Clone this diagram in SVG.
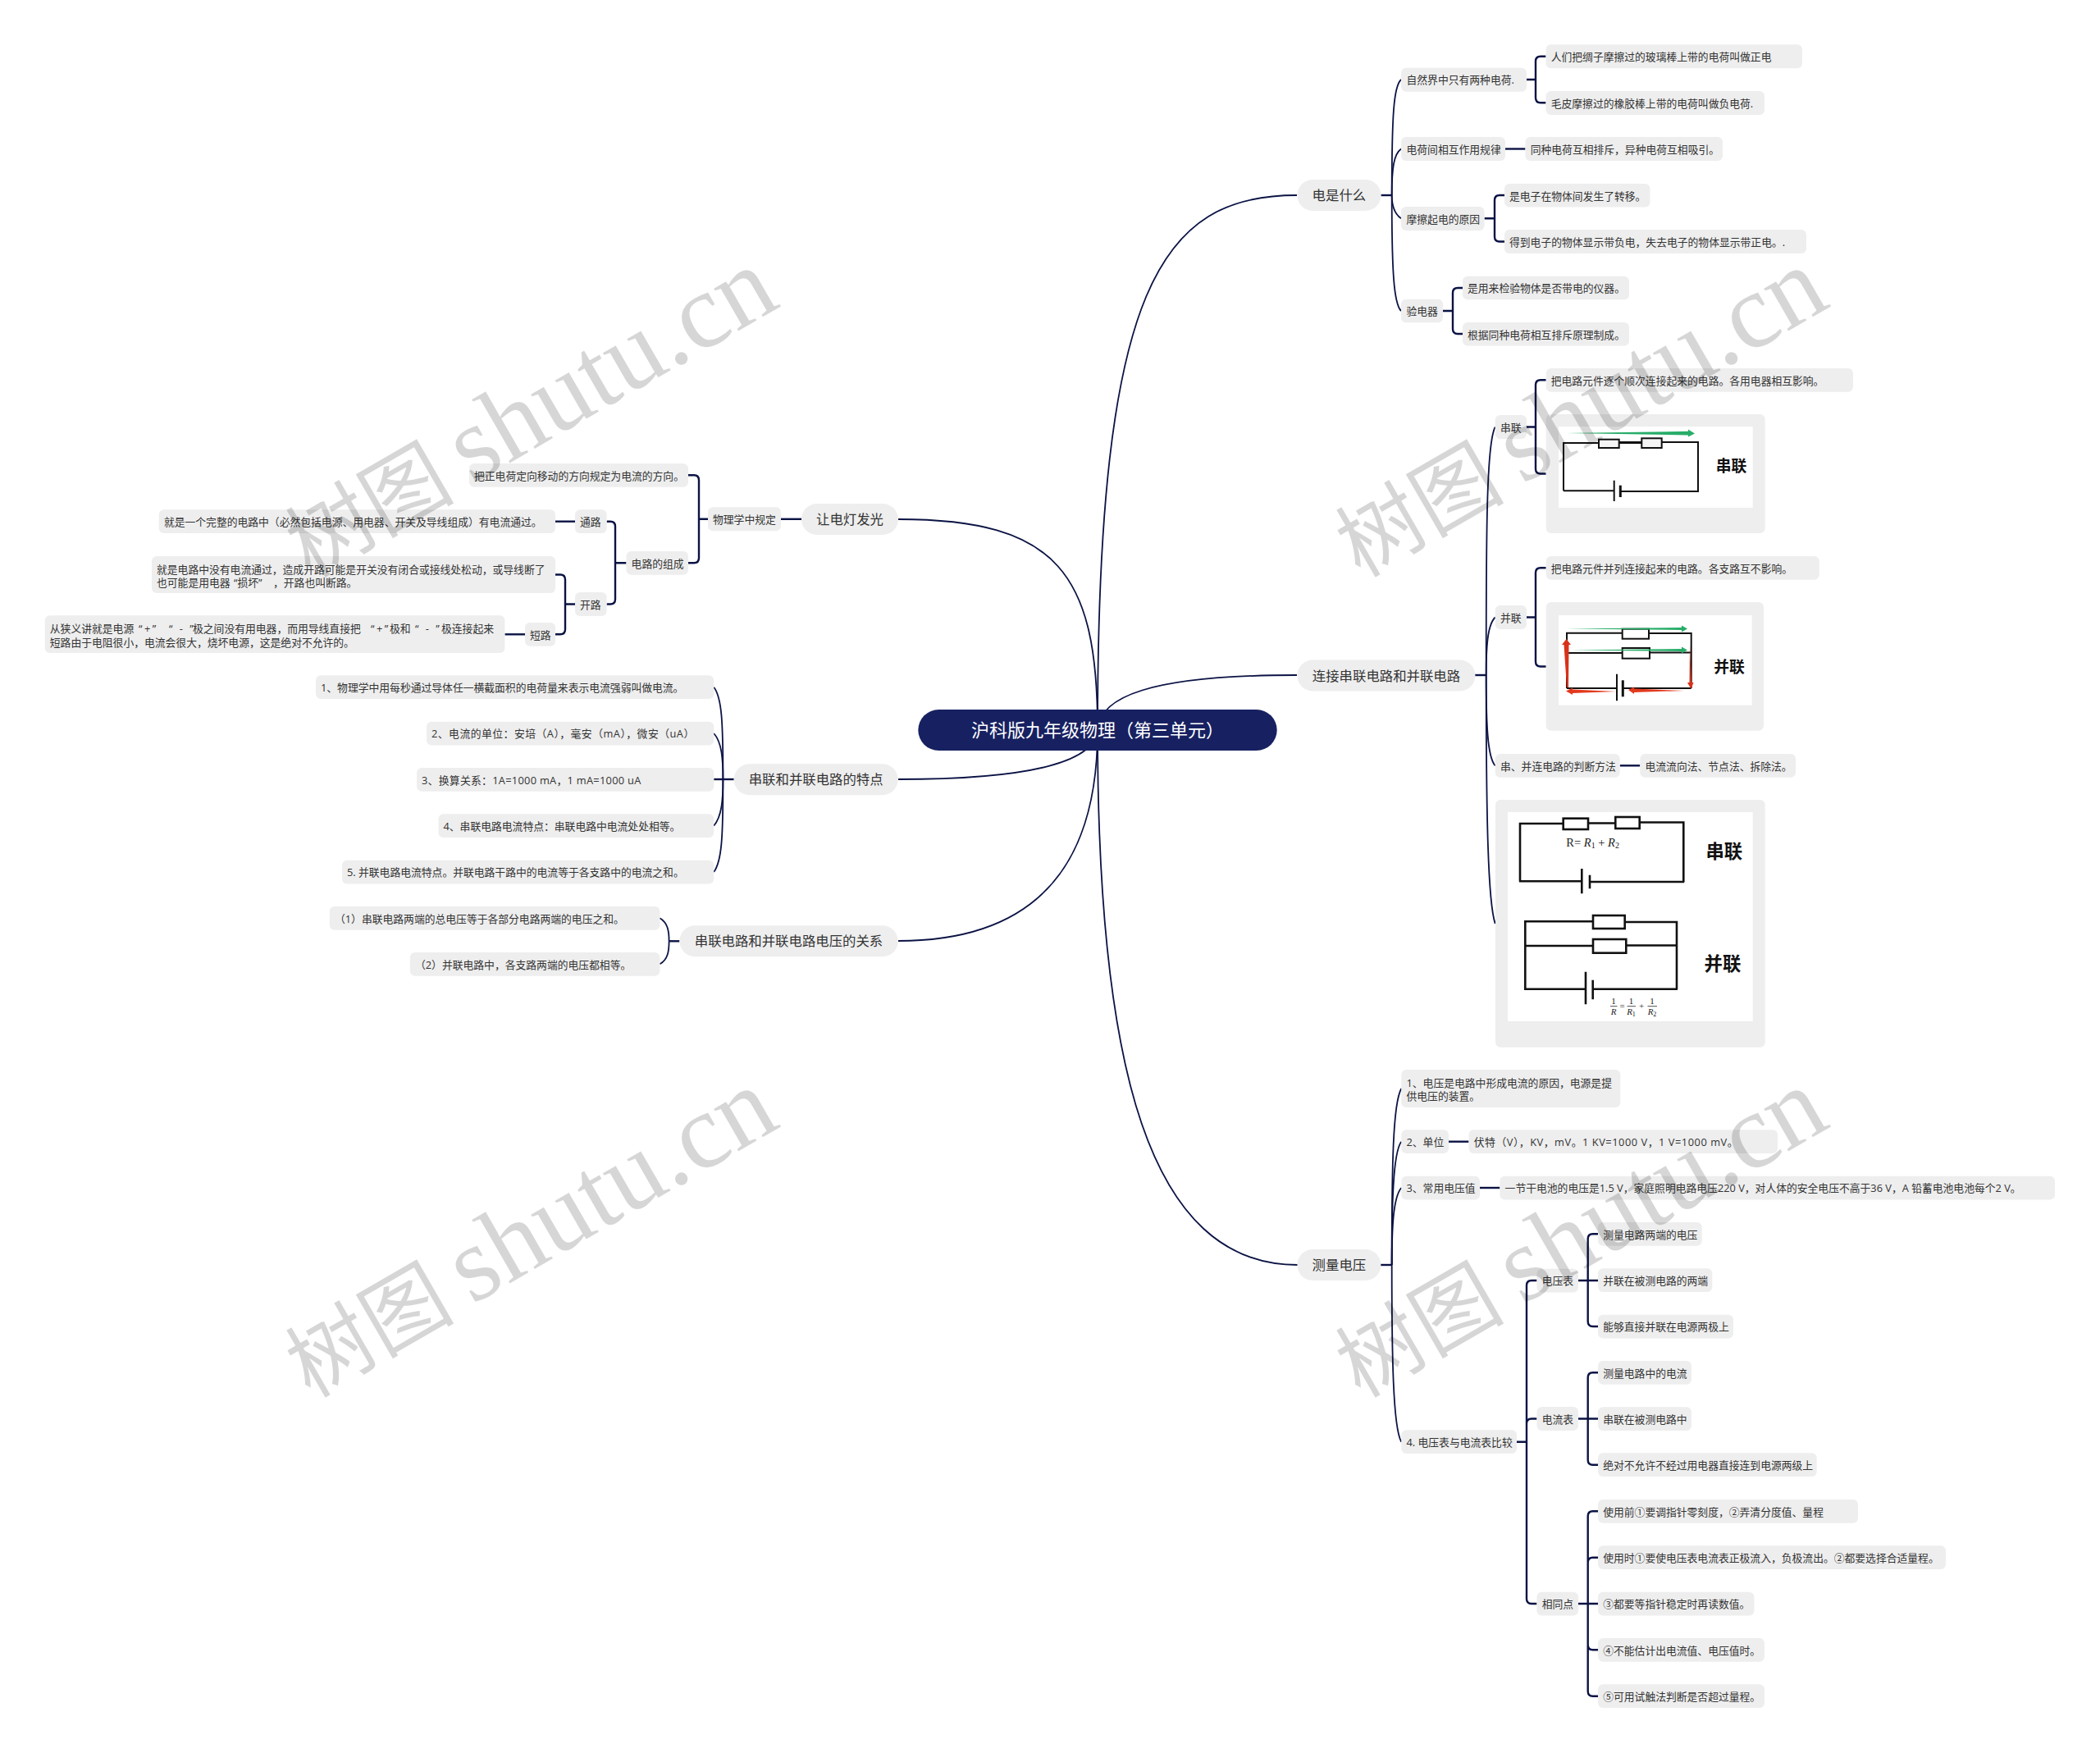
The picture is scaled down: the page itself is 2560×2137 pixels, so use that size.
<svg xmlns="http://www.w3.org/2000/svg" width="2560" height="2137" viewBox="0 0 2560 2137">
<style>
text{font-family:"Open Sans","Noto Sans CJK SC",sans-serif;fill:#333;font-size:12.8px;white-space:pre}
.b{fill:#eee;rx:6px}
.l1{fill:#eee;rx:19px}
.l1t{font-size:16.4px;text-anchor:middle}
.c{fill:none;stroke:#0b1344;stroke-width:1.8}
.s{fill:none;stroke:#0b1344;stroke-width:2.4}
.w{fill:#fff}
.k{fill:none;stroke:#111;stroke-width:2}
.k3{fill:none;stroke:#111;stroke-width:2.6}
.r{fill:#f4f4f4;stroke:#111;stroke-width:2}
.r3{fill:#fff;stroke:#111;stroke-width:2.6}
.lab{font-weight:700;fill:#111;text-anchor:middle;font-family:"Noto Sans CJK SC",sans-serif}
.f{font-family:"Liberation Serif",serif;fill:#222}
.wm{font-family:"Liberation Serif","Noto Sans CJK SC",serif;font-size:130px;fill:#000;fill-opacity:.16}
.wc{font-family:"Noto Sans CJK SC",sans-serif;font-size:103px;fill:#000;fill-opacity:.16}
.q{letter-spacing:2.5px}
</style>
<rect width="2560" height="2137" fill="#fff"/>
<g id="connectors">
<path class="c" d="M1338 890C1338 350 1415 238 1581 238"/>
<path class="c" d="M1338 890C1340 850 1400 823 1581 823"/>
<path class="c" d="M1338 890C1338 1300 1400 1542 1582 1542"/>
<path class="c" d="M1338 890C1338 700 1290 633 1095 633"/>
<path class="c" d="M1338 890C1335 925 1270 950 1095 950"/>
<path class="c" d="M1338 890C1338 1010 1300 1147 1095 1147"/>
<path class="s" d="M1683.5 238H1696.7"/>
<path class="c" d="M1696.7 238C1696.7 140 1699 105 1708 97"/>
<path class="c" d="M1696.7 238C1696.7 205 1699 188 1708 181.5"/>
<path class="c" d="M1696.7 238C1696.7 250 1699 260 1708 266.3"/>
<path class="c" d="M1696.7 238C1696.7 330 1699 370 1708 379"/>
<path class="s" d="M1861 97H1872M1884.5 68.8H1878Q1872 68.8 1872 74.8V119Q1872 125.3 1878 125.3H1884.5"/>
<path class="s" d="M1835 181.5H1859.5"/>
<path class="s" d="M1809.5 266.3H1822M1834 238H1828Q1822 238 1822 244V288.5Q1822 294.5 1828 294.5H1834"/>
<path class="s" d="M1759 379H1771M1783 351H1777Q1771 351 1771 357V401Q1771 407 1777 407H1783"/>
<path class="s" d="M1798 823H1811.7"/>
<path class="c" d="M1811.7 823C1811.7 650 1812 540 1822.7 520.5"/>
<path class="c" d="M1811.7 823C1811.7 790 1813 762 1822.7 752.5"/>
<path class="c" d="M1811.7 823C1811.7 880 1813 923 1822.7 933.3"/>
<path class="c" d="M1811.7 823C1811.7 1000 1814 1100 1822.7 1126"/>
<path class="s" d="M1861 520.5H1872M1884.7 463.3H1878Q1872 463.3 1872 469.3V571.5Q1872 577.5 1878 577.5H1884.7"/>
<path class="s" d="M1861 752.5H1872M1884.7 692.3H1878Q1872 692.3 1872 698.3V806.5Q1872 812.5 1878 812.5H1884.7"/>
<path class="s" d="M1974.7 933.3H1999.3"/>
<path class="s" d="M1683 1542H1696.7"/>
<path class="c" d="M1696.7 1542C1696.7 1420 1698 1345 1708.3 1327"/>
<path class="c" d="M1696.7 1542C1696.7 1470 1698 1405 1708.3 1391.7"/>
<path class="c" d="M1696.7 1542C1696.7 1500 1698 1460 1708.3 1448"/>
<path class="c" d="M1696.7 1542C1696.7 1650 1698 1740 1708.3 1757.7"/>
<path class="s" d="M1766 1391.7H1790.5"/>
<path class="s" d="M1804 1448H1828.4"/>
<path class="s" d="M1849 1757.7H1861M1873.5 1561H1867Q1861 1561 1861 1567V1949Q1861 1955 1867 1955H1873.5M1861 1735.5Q1861 1729.5 1867 1729.5H1873.5"/>
<path class="s" d="M1924 1561H1948M1948 1504.3H1941.7Q1935.7 1504.3 1935.7 1510.3V1611Q1935.7 1617 1941.7 1617H1948"/>
<path class="s" d="M1924 1729.5H1948M1948 1673.3H1941.7Q1935.7 1673.3 1935.7 1679.3V1779.7Q1935.7 1785.7 1941.7 1785.7H1948"/>
<path class="s" d="M1924 1955H1948M1948 1842.3H1941.7Q1935.7 1842.3 1935.7 1848.3V2061.7Q1935.7 2067.7 1941.7 2067.7H1948M1948 1898.7H1941.7Q1935.7 1898.7 1935.7 1904.7M1948 2011.3H1941.7Q1935.7 2011.3 1935.7 2005.3"/>
<path class="s" d="M952 632.8H977"/>
<path class="s" d="M863 632.8H852M839 579.3H846Q852 579.3 852 585.3V680.3Q852 686.3 846 686.3H839"/>
<path class="s" d="M763.5 686.3H750M739.6 635.7H744Q750 635.7 750 641.7V730.5Q750 736.5 744 736.5H739.6"/>
<path class="s" d="M701 635.7H677"/>
<path class="s" d="M701 736.5H689M677 700.5H683Q689 700.5 689 706.5V767.3Q689 773.3 683 773.3H677"/>
<path class="s" d="M640 773.3H615.4"/>
<path class="s" d="M894.7 950H870.2"/>
<path class="c" d="M881.4 950C881.4 880 880 850 870.2 837.7"/>
<path class="c" d="M881.4 950C881.4 925 880 905 870.2 894"/>
<path class="c" d="M881.4 950C881.4 975 880 995 870.2 1006.7"/>
<path class="c" d="M881.4 950C881.4 1020 880 1050 870.2 1063"/>
<path class="s" d="M828.4 1147.3H815.6"/>
<path class="c" d="M815.6 1147.3C815.6 1135 814 1125 804.4 1119.3"/>
<path class="c" d="M815.6 1147.3C815.6 1160 814 1170 804.4 1175.3"/>
</g>

<g id="root"><rect x="1119.3" y="865" width="437.4" height="50" rx="25" fill="#172161"/><text x="1338" y="898" text-anchor="middle" style="fill:#fff;font-size:22px">沪科版九年级物理（第三单元）</text></g>

<g id="n1"><rect class="l1" x="1581.4" y="219" width="102" height="38"/><text class="l1t" x="1632.4" y="244">电是什么</text></g>
<g id="n2"><rect class="b" x="1708" y="82.7" width="153" height="29"/><text x="1714.5" y="102">自然界中只有两种电荷.</text></g>
<g id="n3"><rect class="b" x="1884.5" y="54.3" width="312.5" height="29"/><text x="1890.7" y="74">人们把绸子摩擦过的玻璃棒上带的电荷叫做正电</text></g>
<g id="n4"><rect class="b" x="1884.5" y="111" width="266.5" height="29"/><text x="1890.7" y="130.5">毛皮摩擦过的橡胶棒上带的电荷叫做负电荷.</text></g>
<g id="n5"><rect class="b" x="1708" y="167" width="127" height="29"/><text x="1714.5" y="186.5">电荷间相互作用规律</text></g>
<g id="n6"><rect class="b" x="1859.5" y="167" width="240.5" height="29"/><text x="1865.7" y="186.5">同种电荷互相排斥，异种电荷互相吸引。</text></g>
<g id="n7"><rect class="b" x="1708" y="252" width="101.5" height="29"/><text x="1714.5" y="271.5">摩擦起电的原因</text></g>
<g id="n8"><rect class="b" x="1834" y="224" width="177.5" height="28.5"/><text x="1840" y="243.5">是电子在物体间发生了转移。</text></g>
<g id="n9"><rect class="b" x="1834" y="280" width="368" height="29"/><text x="1840" y="299.5">得到电子的物体显示带负电，失去电子的物体显示带正电。.</text></g>
<g id="n10"><rect class="b" x="1708" y="364.7" width="51" height="28.5"/><text x="1714.5" y="384">验电器</text></g>
<g id="n11"><rect class="b" x="1783" y="336.7" width="203" height="28.5"/><text x="1789" y="356">是用来检验物体是否带电的仪器。</text></g>
<g id="n12"><rect class="b" x="1783" y="393" width="203" height="28.5"/><text x="1789" y="412.5">根据同种电荷相互排斥原理制成。</text></g>

<g id="n13"><rect class="l1" x="1581.4" y="804.5" width="217" height="38"/><text class="l1t" x="1690" y="829.5">连接串联电路和并联电路</text></g>
<g id="n14"><rect class="b" x="1822.7" y="506" width="38.3" height="29"/><text x="1829" y="525.5">串联</text></g>
<g id="n15"><rect class="b" x="1884.7" y="449" width="374.3" height="28.7"/><text x="1890.7" y="468.5">把电路元件逐个顺次连接起来的电路。各用电器相互影响。</text></g>
<g id="n16"><rect class="b" x="1884.7" y="505" width="267" height="145"/><rect class="w" x="1900" y="520" width="236.7" height="99"/>
<path class="k" d="M1906 598.3V540H1949M2025.7 539H2070V599M1906 598.3H1967.7M1975.3 599H2071"/>
<path d="M1973.7 539.5H2001.3" fill="none" stroke="#111" stroke-width="3"/>
<rect class="r" x="1949" y="535.7" width="24.7" height="10.3"/><rect class="r" x="2001.3" y="534.3" width="24.4" height="11.7"/>
<path class="k" d="M1967.7 585.7V611"/><path d="M1975.3 591.7V606" fill="none" stroke="#111" stroke-width="3"/>
<path d="M1910 528L2058 525.8V523.5L2066 528.5L2058 532.5V530.5Z" fill="#27ad68"/>
<text class="lab" x="2110.5" y="575" style="font-size:18.8px">串联</text></g>
<g id="n17"><rect class="b" x="1822.7" y="738" width="38.3" height="29"/><text x="1829" y="757.5">并联</text></g>
<g id="n18"><rect class="b" x="1884.7" y="678" width="333" height="28.7"/><text x="1890.7" y="697.5">把电路元件并列连接起来的电路。各支路互不影响。</text></g>
<g id="n19"><rect class="b" x="1884.7" y="734" width="265.3" height="156.7"/><rect class="w" x="1900" y="750" width="235.7" height="109.7"/>
<path class="k" d="M1910 839V771.7H1977.7M2010 772H2061.7V839M1911 796H1977.7M2011 795.5H2061.7M1910 839H1971M1978.3 839H2061.7"/>
<rect class="r" x="1977.7" y="766.7" width="32.3" height="12" style="fill:#fff"/><rect class="r" x="1977.7" y="790" width="33.3" height="12.7" style="fill:#fff"/>
<path class="k" d="M1971 821.7V854.3"/><path d="M1978.3 829.3V849.3" fill="none" stroke="#111" stroke-width="3"/>
<path d="M1910 766.5L2050 765V762.5L2057 766.5L2050 770.5V768Z" fill="#27ad68"/>
<path d="M1915 792.5L2050 791V788.5L2057 792.5L2050 796.5V794Z" fill="#27ad68"/>
<path d="M1910 838L1906.5 786H1904L1909.5 779L1915 786H1912.5L1912 838Z" fill="#d8321a"/>
<path d="M2060 787L2062 832H2064.5L2061.5 840L2057 832H2059.5Z" fill="#d8321a"/>
<path d="M1970 843L1917 845V847L1909 842.5L1917 838.5V840.5Z" fill="#e23a1e"/>
<path d="M2053 842L1992 844V846L1985 841L1992 837.5V839.5Z" fill="#e23a1e"/>
<text class="lab" x="2108" y="820" style="font-size:18.8px">并联</text></g>
<g id="n20"><rect class="b" x="1822.7" y="919" width="152" height="28.7"/><text x="1829" y="938.5">串、并连电路的判断方法</text></g>
<g id="n21"><rect class="b" x="1999.3" y="919" width="189.7" height="28.7"/><text x="2005.5" y="938.5">电流流向法、节点法、拆除法。</text></g>
<g id="n22"><rect class="b" x="1823" y="975" width="328.7" height="301.7"/><rect class="w" x="1838" y="990" width="298.7" height="255"/>
<path class="k3" d="M1853 1074.5V1004H1905.7M1936 1003.5H1969.3M1998.7 1002.5H2052.3V1075.5M1852 1074.3H1928.3M1938 1075H2053"/>
<rect class="r3" x="1905.7" y="997.7" width="30.3" height="13.3"/><rect class="r3" x="1969.3" y="996" width="29.4" height="14"/>
<path class="k3" d="M1928.3 1059V1089.3M1938 1066.7V1083.3"/>
<text class="f" x="1909.3" y="1032" style="font-size:14.5px">R= <tspan font-style="italic">R</tspan><tspan font-size="10" dy="2">1</tspan><tspan dy="-2"> + </tspan><tspan font-style="italic">R</tspan><tspan font-size="10" dy="2">2</tspan></text>
<text class="lab" x="2101.8" y="1046" style="font-size:22.4px">串联</text>
<path class="k3" d="M1859.3 1205.7V1123.3H1942M1980.7 1124H2044V1205.7M1859.3 1153H1942M1982.3 1152.5H2045M1858 1205.7H1933M1941.7 1205.7H2045"/>
<rect class="r3" x="1942" y="1116" width="38.7" height="16"/><rect class="r3" x="1942" y="1145" width="40.3" height="16.7"/>
<path class="k3" d="M1933 1184.7V1224.3M1941.7 1194.7V1218.3"/>
<text class="lab" x="2100" y="1183" style="font-size:22.4px">并联</text>
<path d="M1963 1226.7H1971.5M1983.5 1226.7H1994M2008.5 1226.7H2020" fill="none" stroke="#222" stroke-width=".8"/>
<text class="f" x="1967" y="1224" style="font-size:11px" text-anchor="middle">1</text><text class="f" x="1967" y="1237" style="font-size:11px;font-style:italic" text-anchor="middle">R</text>
<text class="f" x="1977.5" y="1230" style="font-size:11px" text-anchor="middle">=</text>
<text class="f" x="1988.5" y="1224" style="font-size:11px" text-anchor="middle">1</text><text class="f" x="1988.5" y="1237" style="font-size:11px" text-anchor="middle"><tspan font-style="italic">R</tspan><tspan font-size="8" dy="1.5">1</tspan></text>
<text class="f" x="2001" y="1230" style="font-size:11px" text-anchor="middle">+</text>
<text class="f" x="2014" y="1224" style="font-size:11px" text-anchor="middle">1</text><text class="f" x="2014" y="1237" style="font-size:11px" text-anchor="middle"><tspan font-style="italic">R</tspan><tspan font-size="8" dy="1.5">2</tspan></text>
</g>

<g id="n23"><rect class="l1" x="1581.4" y="1523" width="102" height="38"/><text class="l1t" x="1632.4" y="1548">测量电压</text></g>
<g id="n24"><rect class="b" x="1708.3" y="1304" width="267" height="46"/><text x="1714.5" y="1324.5">1、电压是电路中形成电流的原因，电源是提</text><text x="1714.5" y="1341.3">供电压的装置。</text></g>
<g id="n25"><rect class="b" x="1708.3" y="1377.3" width="57.7" height="28.7"/><text x="1714.5" y="1397">2、单位</text></g>
<g id="n26"><rect class="b" x="1790.5" y="1377.3" width="376.5" height="28.7"/><text x="1796.7" y="1397" style="letter-spacing:.55px">伏特（V），KV，mV。1 KV=1000 V，1 V=1000 mV。</text></g>
<g id="n27"><rect class="b" x="1708.3" y="1433.7" width="95.7" height="28.7"/><text x="1714.5" y="1453.3">3、常用电压值</text></g>
<g id="n28"><rect class="b" x="1828.4" y="1433.7" width="676.6" height="28.7"/><text x="1834.6" y="1453.3">一节干电池的电压是1.5 V，家庭照明电路电压220 V，对人体的安全电压不高于36 V，A 铅蓄电池电池每个2 V。</text></g>
<g id="n29"><rect class="b" x="1708.3" y="1743.3" width="140.7" height="28.7"/><text x="1714.5" y="1763">4. 电压表与电流表比较</text></g>
<g id="n30"><rect class="b" x="1873.5" y="1546.7" width="50.5" height="28.7"/><text x="1879.7" y="1566.3">电压表</text></g>
<g id="n31"><rect class="b" x="1948" y="1490" width="126.7" height="28.7"/><text x="1954.2" y="1509.6">测量电路两端的电压</text></g>
<g id="n32"><rect class="b" x="1948" y="1546.3" width="139.3" height="28.7"/><text x="1954.2" y="1566">并联在被测电路的两端</text></g>
<g id="n33"><rect class="b" x="1948" y="1602.7" width="165" height="28.7"/><text x="1954.2" y="1622.3">能够直接并联在电源两极上</text></g>
<g id="n34"><rect class="b" x="1873.5" y="1715" width="50.5" height="29"/><text x="1879.7" y="1734.8">电流表</text></g>
<g id="n35"><rect class="b" x="1948" y="1659" width="114" height="28.7"/><text x="1954.2" y="1678.6">测量电路中的电流</text></g>
<g id="n36"><rect class="b" x="1948" y="1715.3" width="114" height="28.7"/><text x="1954.2" y="1735">串联在被测电路中</text></g>
<g id="n37"><rect class="b" x="1948" y="1771.3" width="266.7" height="28.7"/><text x="1954.2" y="1791">绝对不允许不经过用电器直接连到电源两级上</text></g>
<g id="n38"><rect class="b" x="1873.5" y="1940.7" width="50.5" height="28.7"/><text x="1879.7" y="1960.3">相同点</text></g>
<g id="n39"><rect class="b" x="1948" y="1828" width="317" height="28.7"/><text x="1954.2" y="1847.6">使用前①要调指针零刻度，②弄清分度值、量程</text></g>
<g id="n40"><rect class="b" x="1948" y="1884.3" width="424" height="28.7"/><text x="1954.2" y="1904">使用时①要使电压表电流表正极流入，负极流出。②都要选择合适量程。</text></g>
<g id="n41"><rect class="b" x="1948" y="1940.7" width="190.4" height="28.7"/><text x="1954.2" y="1960.3">③都要等指针稳定时再读数值。</text></g>
<g id="n42"><rect class="b" x="1948" y="1997" width="203" height="28.7"/><text x="1954.2" y="2016.6">④不能估计出电流值、电压值时。</text></g>
<g id="n43"><rect class="b" x="1948" y="2053.3" width="203" height="28.7"/><text x="1954.2" y="2073">⑤可用试触法判断是否超过量程。</text></g>

<g id="n44"><rect class="l1" x="977" y="614" width="118" height="38"/><text class="l1t" x="1036" y="639">让电灯发光</text></g>
<g id="n45"><rect class="b" x="863" y="618.3" width="89" height="29"/><text x="869" y="638">物理学中规定</text></g>
<g id="n46"><rect class="b" x="572" y="565" width="267" height="28.7"/><text x="578" y="584.6">把正电荷定向移动的方向规定为电流的方向。</text></g>
<g id="n47"><rect class="b" x="763.5" y="672" width="75.5" height="28.7"/><text x="769.6" y="691.6">电路的组成</text></g>
<g id="n48"><rect class="b" x="701" y="621.3" width="38.6" height="28.7"/><text x="707" y="641">通路</text></g>
<g id="n49"><rect class="b" x="193.7" y="621.3" width="483.3" height="28.7"/><text x="199.9" y="641">就是一个完整的电路中（必然包括电源、用电器、开关及导线组成）有电流通过。</text></g>
<g id="n50"><rect class="b" x="701" y="722" width="38.6" height="29"/><text x="707" y="741.8">开路</text></g>
<g id="n51"><rect class="b" x="185" y="678" width="492" height="45"/><text x="191" y="698.5">就是电路中没有电流通过，造成开路可能是开关没有闭合或接线处松动，或导线断了</text><text x="191" y="715.2">也可能是用电器<tspan x="285">“损坏”</tspan><tspan x="333">，开路也叫断路。</tspan></text></g>
<g id="n52"><rect class="b" x="640" y="759" width="37" height="28.7"/><text x="646" y="778.6">短路</text></g>
<g id="n53"><rect class="b" x="54.7" y="750.3" width="560.7" height="45.7"/><text x="60.8" y="771">从狭义讲就是电源<tspan class="q" x="169">“+”</tspan><tspan class="q" x="206">“ - ”</tspan><tspan x="235">极之间没有用电器，而用导线直接把</tspan><tspan class="q" x="452">“+”</tspan><tspan x="475">极和</tspan><tspan class="q" x="506">“ - ”</tspan><tspan x="538">极连接起来</tspan></text><text x="60.8" y="787.8">短路由于电阻很小，电流会很大，烧坏电源，这是绝对不允许的。</text></g>

<g id="n54"><rect class="l1" x="894.7" y="931.3" width="200" height="38"/><text class="l1t" x="994.7" y="956.3">串联和并联电路的特点</text></g>
<g id="n55"><rect class="b" x="385" y="823.3" width="485.2" height="28.7"/><text x="391" y="843">1、物理学中用每秒通过导体任一横截面积的电荷量来表示电流强弱叫做电流。</text></g>
<g id="n56"><rect class="b" x="520" y="879.7" width="350.2" height="28.7"/><text x="526" y="899.3" style="letter-spacing:.5px">2、电流的单位：安培（A），毫安（mA），微安（uA）</text></g>
<g id="n57"><rect class="b" x="508" y="936" width="362.2" height="28.7"/><text x="514" y="955.6" style="letter-spacing:.3px">3、换算关系：1A=1000 mA，1 mA=1000 uA</text></g>
<g id="n58"><rect class="b" x="534.5" y="992.3" width="335.7" height="28.7"/><text x="540.5" y="1012">4、串联电路电流特点：串联电路中电流处处相等。</text></g>
<g id="n59"><rect class="b" x="417" y="1048.7" width="453.2" height="28.7"/><text x="423" y="1068.3">5. 并联电路电流特点。并联电路干路中的电流等于各支路中的电流之和。</text></g>
<g id="n60"><rect class="l1" x="828.4" y="1128.3" width="266.3" height="38"/><text class="l1t" x="961.5" y="1153.3">串联电路和并联电路电压的关系</text></g>
<g id="n61"><rect class="b" x="401.8" y="1105" width="402.6" height="28.7"/><text x="408" y="1124.6">（1）串联电路两端的总电压等于各部分电路两端的电压之和。</text></g>
<g id="n62"><rect class="b" x="499.8" y="1161" width="304.6" height="28.7"/><text x="506" y="1180.6">（2）并联电路中，各支路两端的电压都相等。</text></g>

<g id="watermarks">
<g transform="translate(378 1705) rotate(-30)"><text class="wc">树图</text><text class="wm" x="228">shutu.cn</text></g>
<g transform="translate(1658 1705) rotate(-30)"><text class="wc">树图</text><text class="wm" x="228">shutu.cn</text></g>
<g transform="translate(378 705) rotate(-30)"><text class="wc">树图</text><text class="wm" x="228">shutu.cn</text></g>
<g transform="translate(1658 705) rotate(-30)"><text class="wc">树图</text><text class="wm" x="228">shutu.cn</text></g>
</g>
</svg>
